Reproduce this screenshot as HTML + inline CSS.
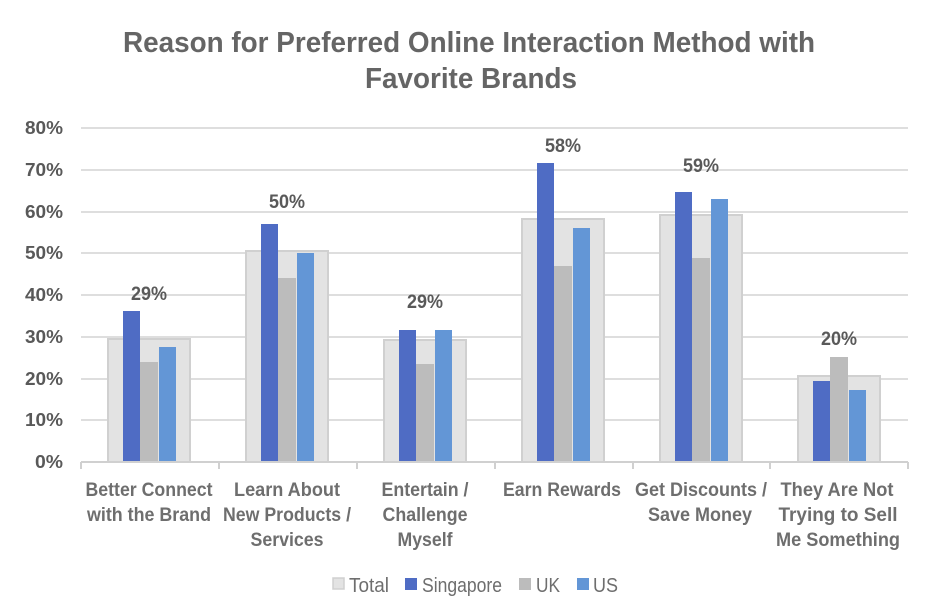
<!DOCTYPE html>
<html><head><meta charset="utf-8"><style>
html,body{margin:0;padding:0;background:#fff;}
svg{display:block;}
text{font-family:"Liberation Sans Narrow","Liberation Sans",sans-serif;}
</style></head><body>
<svg width="935" height="615" viewBox="0 0 935 615" xmlns="http://www.w3.org/2000/svg">
<g fill="#656565" font-weight="bold" font-size="29" text-anchor="middle">
<text x="469" y="52" textLength="692" lengthAdjust="spacingAndGlyphs">Reason for Preferred Online Interaction Method with</text>
<text x="471" y="88" textLength="212" lengthAdjust="spacingAndGlyphs">Favorite Brands</text>
</g>
<g stroke="#dedede" stroke-width="2">
<line x1="81" y1="128" x2="908" y2="128"/><line x1="81" y1="170" x2="908" y2="170"/>
<line x1="81" y1="212" x2="908" y2="212"/><line x1="81" y1="253" x2="908" y2="253"/>
<line x1="81" y1="295" x2="908" y2="295"/><line x1="81" y1="337" x2="908" y2="337"/>
<line x1="81" y1="379" x2="908" y2="379"/><line x1="81" y1="420" x2="908" y2="420"/>
</g>
<g fill="#595959" font-weight="bold" font-size="18" text-anchor="end">
<text x="63" y="134" textLength="38" lengthAdjust="spacingAndGlyphs">80%</text><text x="63" y="176" textLength="38" lengthAdjust="spacingAndGlyphs">70%</text><text x="63" y="218" textLength="38" lengthAdjust="spacingAndGlyphs">60%</text>
<text x="63" y="259" textLength="38" lengthAdjust="spacingAndGlyphs">50%</text><text x="63" y="301" textLength="38" lengthAdjust="spacingAndGlyphs">40%</text><text x="63" y="343" textLength="38" lengthAdjust="spacingAndGlyphs">30%</text>
<text x="63" y="385" textLength="38" lengthAdjust="spacingAndGlyphs">20%</text><text x="63" y="426" textLength="38" lengthAdjust="spacingAndGlyphs">10%</text><text x="63" y="468" textLength="28" lengthAdjust="spacingAndGlyphs">0%</text>
</g>
<g>
<rect x="108" y="339" width="82" height="123" fill="#e3e3e3" stroke="#d0d0d0" stroke-width="2"/>
<rect x="123" y="311" width="17" height="151" fill="#4f6cc4"/>
<rect x="140" y="362" width="18" height="100" fill="#bcbcbc"/>
<rect x="159" y="347" width="17" height="115" fill="#6396d6"/>
<rect x="246" y="251" width="82" height="211" fill="#e3e3e3" stroke="#d0d0d0" stroke-width="2"/>
<rect x="261" y="224" width="17" height="238" fill="#4f6cc4"/>
<rect x="278" y="278" width="18" height="184" fill="#bcbcbc"/>
<rect x="297" y="253" width="17" height="209" fill="#6396d6"/>
<rect x="384" y="340" width="82" height="122" fill="#e3e3e3" stroke="#d0d0d0" stroke-width="2"/>
<rect x="399" y="330" width="17" height="132" fill="#4f6cc4"/>
<rect x="416" y="364" width="18" height="98" fill="#bcbcbc"/>
<rect x="435" y="330" width="17" height="132" fill="#6396d6"/>
<rect x="522" y="219" width="82" height="243" fill="#e3e3e3" stroke="#d0d0d0" stroke-width="2"/>
<rect x="537" y="163" width="17" height="299" fill="#4f6cc4"/>
<rect x="554" y="266" width="18" height="196" fill="#bcbcbc"/>
<rect x="573" y="228" width="17" height="234" fill="#6396d6"/>
<rect x="660" y="215" width="82" height="247" fill="#e3e3e3" stroke="#d0d0d0" stroke-width="2"/>
<rect x="675" y="192" width="17" height="270" fill="#4f6cc4"/>
<rect x="692" y="258" width="18" height="204" fill="#bcbcbc"/>
<rect x="711" y="199" width="17" height="263" fill="#6396d6"/>
<rect x="798" y="376" width="82" height="86" fill="#e3e3e3" stroke="#d0d0d0" stroke-width="2"/>
<rect x="813" y="381" width="17" height="81" fill="#4f6cc4"/>
<rect x="830" y="357" width="18" height="105" fill="#bcbcbc"/>
<rect x="849" y="390" width="17" height="72" fill="#6396d6"/>
</g>
<g stroke="#d0d0d0" stroke-width="2">
<line x1="81" y1="462" x2="908" y2="462"/>
<line x1="81" y1="462" x2="81" y2="469"/><line x1="219" y1="462" x2="219" y2="469"/>
<line x1="357" y1="462" x2="357" y2="469"/><line x1="495" y1="462" x2="495" y2="469"/>
<line x1="633" y1="462" x2="633" y2="469"/><line x1="770" y1="462" x2="770" y2="469"/>
<line x1="908" y1="462" x2="908" y2="469"/>
</g>
<g fill="#595959" font-weight="bold" font-size="19" text-anchor="middle">
<text x="149" y="300" textLength="36" lengthAdjust="spacingAndGlyphs">29%</text><text x="287" y="208" textLength="36" lengthAdjust="spacingAndGlyphs">50%</text><text x="425" y="308" textLength="36" lengthAdjust="spacingAndGlyphs">29%</text>
<text x="563" y="152" textLength="36" lengthAdjust="spacingAndGlyphs">58%</text><text x="701" y="172" textLength="36" lengthAdjust="spacingAndGlyphs">59%</text><text x="839" y="345" textLength="36" lengthAdjust="spacingAndGlyphs">20%</text>
</g>
<g fill="#6e6e6e" font-weight="bold" font-size="19" text-anchor="middle">
<text x="149" y="496" textLength="127" lengthAdjust="spacingAndGlyphs">Better Connect</text><text x="149" y="521" textLength="124" lengthAdjust="spacingAndGlyphs">with the Brand</text>
<text x="287" y="496" textLength="106" lengthAdjust="spacingAndGlyphs">Learn About</text><text x="287" y="521" textLength="128" lengthAdjust="spacingAndGlyphs">New Products /</text><text x="287" y="546" textLength="73" lengthAdjust="spacingAndGlyphs">Services</text>
<text x="425" y="496" textLength="87" lengthAdjust="spacingAndGlyphs">Entertain /</text><text x="425" y="521" textLength="85" lengthAdjust="spacingAndGlyphs">Challenge</text><text x="425" y="546" textLength="55" lengthAdjust="spacingAndGlyphs">Myself</text>
<text x="562" y="496" textLength="118" lengthAdjust="spacingAndGlyphs">Earn Rewards</text>
<text x="701" y="496" textLength="132" lengthAdjust="spacingAndGlyphs">Get Discounts /</text><text x="700" y="521" textLength="104" lengthAdjust="spacingAndGlyphs">Save Money</text>
<text x="837" y="496" textLength="113" lengthAdjust="spacingAndGlyphs">They Are Not</text><text x="838" y="521" textLength="119" lengthAdjust="spacingAndGlyphs">Trying to Sell</text><text x="838" y="546" textLength="124" lengthAdjust="spacingAndGlyphs">Me Something</text>
</g>
<g font-size="20" fill="#6e6e6e">
<rect x="333" y="578" width="11" height="11" fill="#e3e3e3" stroke="#d0d0d0" stroke-width="1.5"/>
<text x="349" y="592" textLength="40" lengthAdjust="spacingAndGlyphs">Total</text>
<rect x="405" y="578" width="12" height="12" fill="#4f6cc4"/>
<text x="422" y="592" textLength="80" lengthAdjust="spacingAndGlyphs">Singapore</text>
<rect x="519" y="578" width="12" height="12" fill="#bcbcbc"/>
<text x="536" y="592" textLength="24" lengthAdjust="spacingAndGlyphs">UK</text>
<rect x="577" y="578" width="12" height="12" fill="#6396d6"/>
<text x="593" y="592" textLength="25" lengthAdjust="spacingAndGlyphs">US</text>
</g>
</svg>
</body></html>
